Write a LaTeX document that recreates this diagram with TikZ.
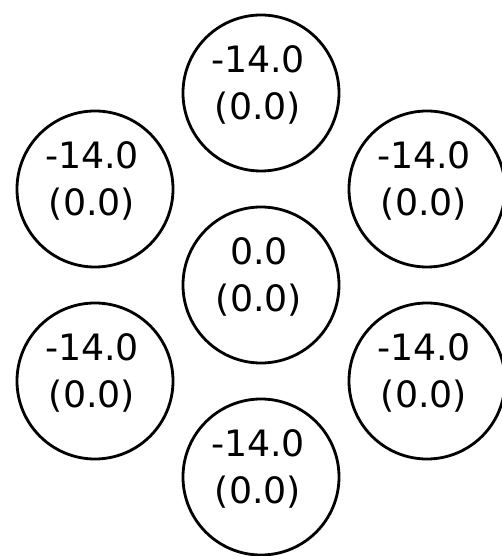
\documentclass[tikz,border=0pt]{standalone}
\usepackage{fontspec}
\setmainfont{DejaVu Sans}
\usepackage{tikz}
\usetikzlibrary{calc,positioning}

\tikzset{
  cell/.style={circle, draw=black, line width=2.4pt, minimum size=4.68cm,
    inner sep=0pt},
  num/.style={align=center, inner sep=0pt, font=\fontsize{31}{40}\selectfont}
}

\begin{document}
\begin{tikzpicture}[x=0.03cm,y=0.03cm]
\useasboundingbox (0,0) rectangle (502,556);
% centre cell
\node[cell] (mid) at (261,271) {};
% ring of six neighbours
\node[cell] (top) at (261,463) {};
\node[cell] (upleft) at (95,367) {};
\node[cell] (upright) at (427,367) {};
\node[cell] (lowleft) at (95,175) {};
\node[cell] (lowright) at (427,175) {};
\node[cell] (bottom) at (261,79) {};
% values
\node[num] at ([shift={(-2,8)}]mid.center) {0.0\\(0.0)};
\foreach \c in {top,upleft,upright,lowleft,lowright,bottom}
  \node[num] at ([shift={(-3,8)}]\c.center) {-14.0\\(0.0)};
\end{tikzpicture}
\end{document}
